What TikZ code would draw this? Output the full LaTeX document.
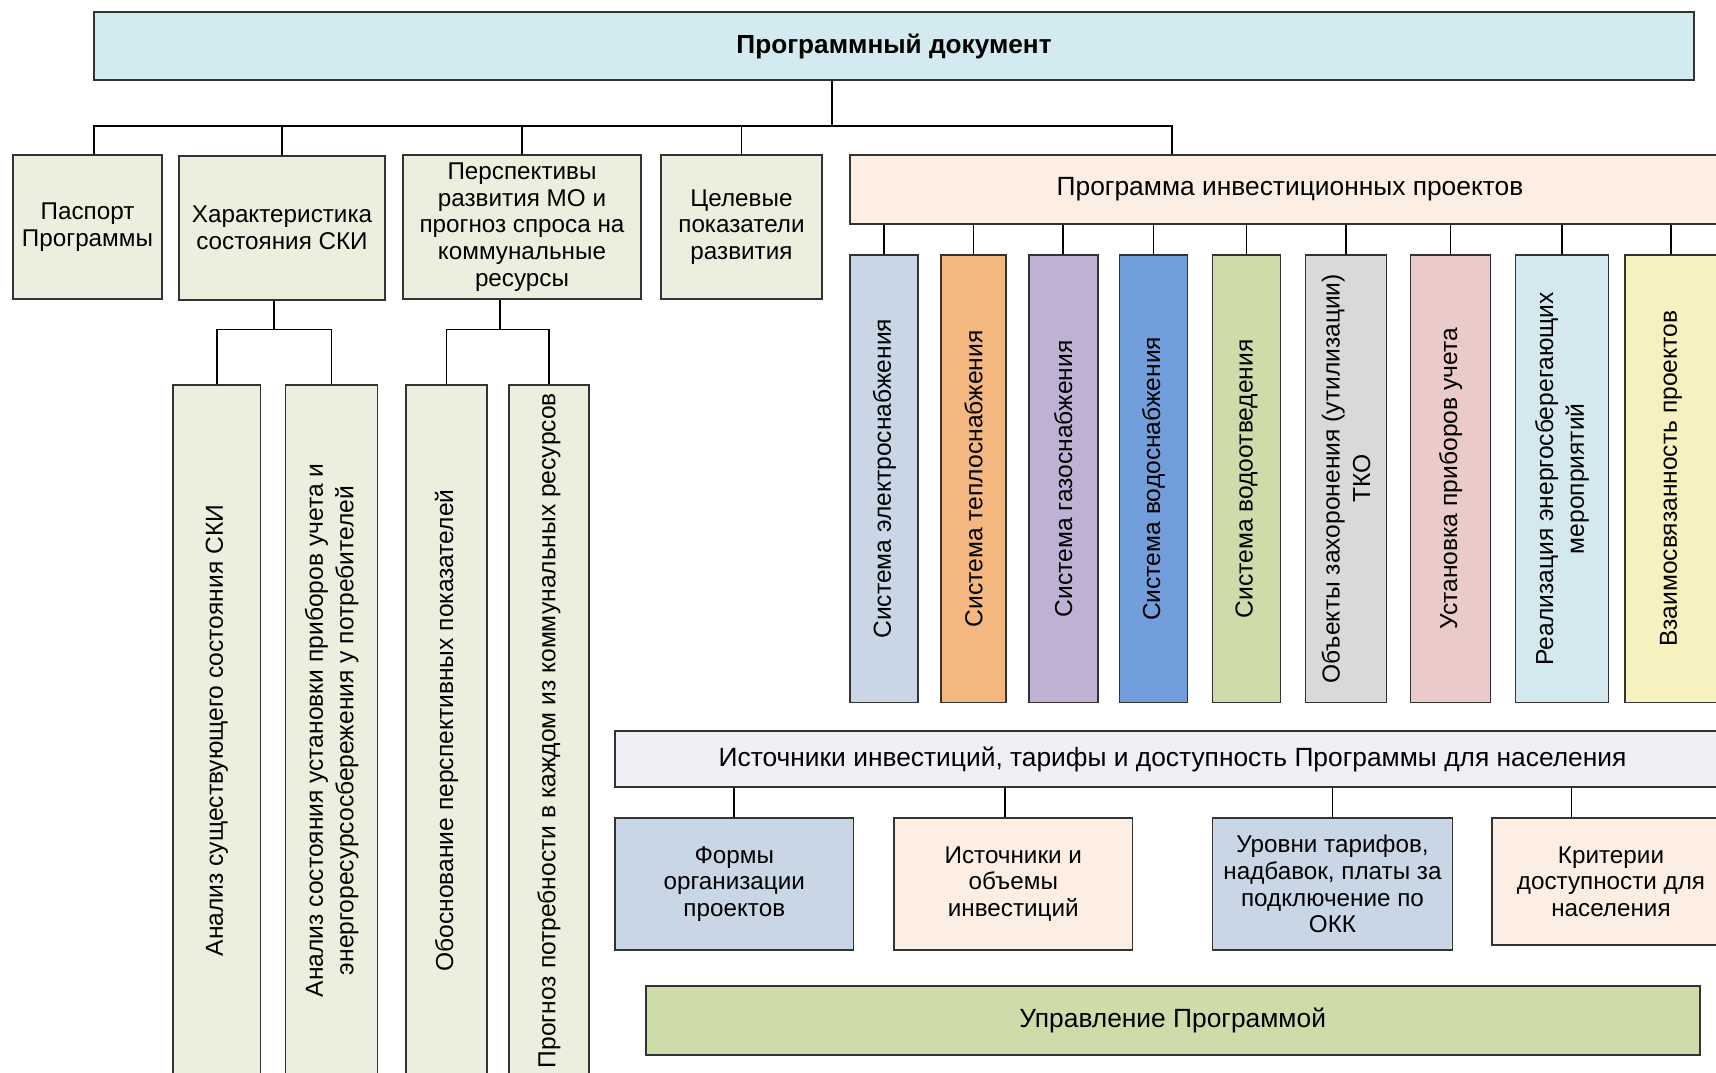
\documentclass[tikz,border=0pt]{standalone}
\usepackage{fontspec}
\setmainfont{Liberation Sans}
\usetikzlibrary{positioning, calc}
\definecolor{Fill-doc}{RGB}{210,234,240}
\definecolor{Fill-olv}{RGB}{235,240,222}
\definecolor{Fill-pch}{RGB}{253,238,227}
\definecolor{Fill-lav}{RGB}{240,239,245}
\definecolor{Fill-bgr}{RGB}{200,214,230}
\definecolor{Fill-org}{RGB}{245,183,128}
\definecolor{Fill-prp}{RGB}{191,177,212}
\definecolor{Fill-blu}{RGB}{114,159,219}
\definecolor{Fill-grn}{RGB}{205,220,168}
\definecolor{Fill-gry}{RGB}{217,217,217}
\definecolor{Fill-pnk}{RGB}{235,202,202}
\definecolor{Fill-lbl}{RGB}{211,233,239}
\definecolor{Fill-ylw}{RGB}{247,241,192}

\begin{document}
\begin{tikzpicture}
      \tikzset{ hdr/.style ={draw=black!80, rectangle, line width=0.5pt, align=center, text=black, inner sep=1pt, font=\bfseries\fontsize{7.45}{9}\selectfont} }
      \tikzset{ sec/.style ={draw=black!80, rectangle, line width=0.5pt, align=center, text=black, inner sep=1pt, font=\fontsize{6.9}{7.6}\selectfont} }
      \tikzset{ sys/.style ={draw=black!80, rectangle, line width=0.5pt, align=center, text=black, inner sep=1pt, rotate=90, font=\fontsize{7.0}{8.7}\selectfont} }
      \tikzset{ band/.style={draw=black!80, rectangle, line width=0.5pt, align=center, text=black, inner sep=1pt, font=\fontsize{7.5}{9}\selectfont} }
      \tikzset{ wire/.style={draw=black, line width=0.5pt} }

      \useasboundingbox (0,0) rectangle (17.16,-10.73);
      \clip (0,0) rectangle (17.16,-10.73);

      \node[hdr, fill=Fill-doc, minimum width=16.00cm, minimum height=0.68cm] (l0_n0) at ( 8.94,-0.46) {Программный документ};

      \node[sec,  fill=Fill-olv, minimum width=1.49cm, minimum height=1.44cm] (l1_n0) at ( 0.875,-2.27 ) {Паспорт\\Программы};
      \node[sec,  fill=Fill-olv, minimum width=2.06cm, minimum height=1.44cm] (l1_n1) at ( 2.82, -2.28 ) {Характеристика\\состояния СКИ};
      \node[sec,  fill=Fill-olv, minimum width=2.38cm, minimum height=1.44cm] (l1_n2) at ( 5.22, -2.27 ) {Перспективы\\развития МО и\\прогноз спроса на\\коммунальные\\ресурсы};
      \node[sec,  fill=Fill-olv, minimum width=1.61cm, minimum height=1.44cm] (l1_n3) at ( 7.415,-2.27 ) {Целевые\\показатели\\развития};
      \node[band, fill=Fill-pch, minimum width=8.80cm, minimum height=0.69cm] (l1_n4) at (12.90, -1.895) {Программа инвестиционных проектов};

      \coordinate (bus0) at (8.32,-1.26);
      \coordinate (l1_t0) at ([xshift=0.065cm]l1_n0.north);
      \coordinate (l1_t4) at ([xshift=3.23cm]l1_n4.north west);
      \draw[wire] (l0_n0.south -| bus0) -- (bus0);
      \draw[wire] (bus0) -| (l1_t0);
      \draw[wire] (bus0) -| (l1_n1.north);
      \draw[wire] (bus0) -| (l1_n2.north);
      \draw[wire] (bus0) -| (l1_n3.north);
      \draw[wire] (bus0) -| (l1_t4);

      % rotated boxes: minimum width runs along the column
      \node[sys, fill=Fill-olv, minimum width=6.91cm, minimum height=0.875cm] (l2_n0) at ( 2.168,-7.305) {Анализ существующего состояния СКИ};
      \node[sys, fill=Fill-olv, minimum width=6.91cm, minimum height=0.92cm ] (l2_n1) at ( 3.316,-7.305) {Анализ состояния установки приборов учета и\\энергоресурсосбережения у потребителей};
      \node[sys, fill=Fill-olv, minimum width=6.91cm, minimum height=0.81cm ] (l2_n2) at ( 4.465,-7.305) {Обоснование перспективных показателей};
      \node[sys, fill=Fill-olv, minimum width=6.91cm, minimum height=0.80cm ] (l2_n3) at ( 5.49, -7.305) {Прогноз потребности в каждом из коммунальных ресурсов};

      \coordinate (bus1) at (2.742,-3.295);
      \coordinate (bus2) at (5.00, -3.295);
      \draw[wire] (l1_n1.south -| bus1) -- (bus1);
      \draw[wire] (l2_n0.east) |- (bus1) -| (l2_n1.east);
      \draw[wire] (l1_n2.south -| bus2) -- (bus2);
      \draw[wire] (l2_n2.east) |- (bus2) -| (l2_n3.east);

      \node[sys, fill=Fill-bgr, minimum width=4.476cm, minimum height=0.68cm ] (l2_n4)  at ( 8.843,-4.788) {Система электроснабжения};
      \node[sys, fill=Fill-org, minimum width=4.476cm, minimum height=0.646cm] (l2_n5)  at ( 9.735,-4.788) {Система теплоснабжения};
      \node[sys, fill=Fill-prp, minimum width=4.476cm, minimum height=0.69cm ] (l2_n6)  at (10.632,-4.788) {Система газоснабжения};
      \node[sys, fill=Fill-blu, minimum width=4.476cm, minimum height=0.68cm ] (l2_n7)  at (11.535,-4.788) {Система водоснабжения};
      \node[sys, fill=Fill-grn, minimum width=4.476cm, minimum height=0.68cm ] (l2_n8)  at (12.465,-4.788) {Система водоотведения};
      \node[sys, fill=Fill-gry, minimum width=4.476cm, minimum height=0.81cm ] (l2_n9)  at (13.46, -4.788) {Объекты захоронения (утилизации)\\ТКО};
      \node[sys, fill=Fill-pnk, minimum width=4.476cm, minimum height=0.80cm ] (l2_n10) at (14.506,-4.788) {Установка приборов учета};
      \node[sys, fill=Fill-lbl, minimum width=4.476cm, minimum height=0.93cm ] (l2_n11) at (15.62, -4.788) {Реализация энергосберегающих\\мероприятий};
      \node[sys, fill=Fill-ylw, minimum width=4.476cm, minimum height=0.92cm ] (l2_n12) at (16.71, -4.788) {Взаимосвязанность проектов};

      \draw[wire] (l1_n4.south -| l2_n4.east)  -- (l2_n4.east);
      \draw[wire] (l1_n4.south -| l2_n5.east)  -- (l2_n5.east);
      \draw[wire] (l1_n4.south -| l2_n6.east)  -- (l2_n6.east);
      \draw[wire] (l1_n4.south -| l2_n7.east)  -- (l2_n7.east);
      \draw[wire] (l1_n4.south -| l2_n8.east)  -- (l2_n8.east);
      \draw[wire] (l1_n4.south -| l2_n9.east)  -- (l2_n9.east);
      \draw[wire] (l1_n4.south -| l2_n10.east) -- (l2_n10.east);
      \draw[wire] (l1_n4.south -| l2_n11.east) -- (l2_n11.east);
      \draw[wire] (l1_n4.south -| l2_n12.east) -- (l2_n12.east);

      \node[band, fill=Fill-lav, minimum width=11.15cm, minimum height=0.56cm] (l3_n0) at (11.725,-7.59) {Источники инвестиций, тарифы и доступность Программы для населения};

      \node[sec, fill=Fill-bgr, minimum width=2.386cm, minimum height=1.32cm] (l4_n0) at ( 7.343,-8.84 ) {Формы\\организации\\проектов};
      \node[sec, fill=Fill-pch, minimum width=2.386cm, minimum height=1.32cm] (l4_n1) at (10.133,-8.84 ) {Источники и\\объемы\\инвестиций};
      \node[sec, fill=Fill-bgr, minimum width=2.40cm,  minimum height=1.32cm] (l4_n2) at (13.325,-8.84 ) {Уровни тарифов,\\надбавок, платы за\\подключение по\\ОКК};
      \node[sec, fill=Fill-pch, minimum width=2.386cm, minimum height=1.27cm] (l4_n3) at (16.11, -8.815) {Критерии\\доступности для\\населения};

      \coordinate (l4_t1) at ([xshift=-0.08cm]l4_n1.north);
      \coordinate (l4_t3) at ([xshift=-0.395cm]l4_n3.north);
      \draw[wire] (l3_n0.south -| l4_n0.north) -- (l4_n0.north);
      \draw[wire] (l3_n0.south -| l4_t1) -- (l4_t1);
      \draw[wire] (l3_n0.south -| l4_n2.north) -- (l4_n2.north);
      \draw[wire] (l3_n0.south -| l4_t3) -- (l4_t3);

      \node[band, fill=Fill-grn, minimum width=10.54cm, minimum height=0.69cm] (l5_n0) at (11.727,-10.205) {Управление Программой};
\end{tikzpicture}
\end{document}
